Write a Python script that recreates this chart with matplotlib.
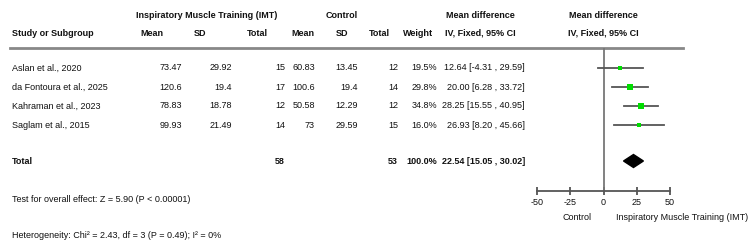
import numpy as np
import matplotlib.pyplot as plt
from matplotlib.patches import Polygon

studies = ['Aslan et al., 2020', 'da Fontoura et al., 2025',
           'Kahraman et al., 2023', 'Saglam et al., 2015']
imt_mean = ['73.47', '120.6', '78.83', '99.93']
imt_sd = ['29.92', '19.4', '18.78', '21.49']
imt_n = [15, 17, 12, 14]
ctl_mean = ['60.83', '100.6', '50.58', '73']
ctl_sd = ['13.45', '19.4', '12.29', '29.59']
ctl_n = [12, 14, 12, 15]
weight = [19.5, 29.8, 34.8, 16.0]
md = [12.64, 20.00, 28.25, 26.93]
lo = [-4.31, 6.28, 15.55, 8.20]
hi = [29.59, 33.72, 40.95, 45.66]
tot_weight = 100.0
tot_md, tot_lo, tot_hi = 22.54, 15.05, 30.02
ticks = [-50, -25, 0, 25, 50]

W, H = 756, 252
plt.rcParams['font.family'] = ['Liberation Sans', 'DejaVu Sans']
plt.rcParams['axes.unicode_minus'] = False
fig = plt.figure(figsize=(W / 100, H / 100), dpi=100)
ax = fig.add_axes([0, 0, 1, 1])
ax.set_xlim(0, W); ax.set_ylim(H, 0); ax.axis('off')

txt = '#111111'
fs = 6.5
def t(x, y, s, ha='left', bold=False):
    ax.text(x, y, s, ha=ha, va='center', fontsize=fs, color=txt,
            fontweight='bold' if bold else 'normal')

# headers
t(207, 15, 'Inspiratory Muscle Training (IMT)', 'center', True)
t(342, 15, 'Control', 'center', True)
t(480, 15, 'Mean difference', 'center', True)
t(603, 15, 'Mean difference', 'center', True)
t(12, 33, 'Study or Subgroup', bold=True)
t(152, 33, 'Mean', 'center', True)
t(200, 33, 'SD', 'center', True)
t(268, 33, 'Total', 'right', True)
t(303, 33, 'Mean', 'center', True)
t(342, 33, 'SD', 'center', True)
t(390, 33, 'Total', 'right', True)
t(433, 33, 'Weight', 'right', True)
t(480, 33, 'IV, Fixed, 95% CI', 'center', True)
t(603, 33, 'IV, Fixed, 95% CI', 'center', True)
ax.plot([10, 683], [48, 48], color='#888888', lw=2)

rows_y = [68, 87, 106, 125]
for i, y in enumerate(rows_y):
    t(12, y, studies[i])
    t(182, y, imt_mean[i], 'right')
    t(232, y, imt_sd[i], 'right')
    t(285, y, str(imt_n[i]), 'right')
    t(315, y, ctl_mean[i], 'right')
    t(358, y, ctl_sd[i], 'right')
    t(398, y, str(ctl_n[i]), 'right')
    t(437, y, f'{weight[i]:.1f}%', 'right')
    t(525, y, f'{md[i]:.2f} [{lo[i]:.2f} , {hi[i]:.2f}]', 'right')

tot_y = 161
t(12, tot_y, 'Total', bold=True)
t(285, tot_y, str(sum(imt_n)), 'right', True)
t(398, tot_y, str(sum(ctl_n)), 'right', True)
t(437, tot_y, f'{tot_weight:.1f}%', 'right', True)
t(525, tot_y, f'{tot_md:.2f} [{tot_lo:.2f} , {tot_hi:.2f}]', 'right', True)
t(12, 200, 'Test for overall effect: Z = 5.90 (P < 0.00001)')
t(12, 235, 'Heterogeneity: Chi\u00b2 = 2.43, df = 3 (P = 0.49); I\u00b2 = 0%')

# forest panel
x0, x1, ytop, ybot = 537, 670, 48, 191
fx = fig.add_axes([x0 / W, (H - ybot) / H, (x1 - x0) / W, (ybot - ytop) / H])
fx.set_xlim(-50, 50); fx.set_ylim(ybot, ytop)
fx.patch.set_visible(False)
for s in ['left', 'right', 'top']:
    fx.spines[s].set_visible(False)
fx.spines['bottom'].set_color('#555555')
fx.spines['bottom'].set_linewidth(1.3)
fx.set_yticks([])
fx.set_xticks(ticks)
fx.tick_params(axis='x', direction='inout', length=6, width=1.3, color='#555555',
               labelsize=fs, labelcolor=txt, pad=2)
fx.axvline(0, color='#777777', lw=1.3)
for i, y in enumerate(rows_y):
    fx.plot([lo[i], hi[i]], [y, y], color='#555555', lw=1.3)
    fx.plot(md[i], y, marker='s', color='#00dd00', ms=0.75 * np.sqrt(weight[i]), mew=0)
dh = 6.5
fx.add_patch(Polygon([[tot_lo, tot_y], [tot_md, tot_y - dh], [tot_hi, tot_y], [tot_md, tot_y + dh]],
                     closed=True, color='black'))
t(577, 217, 'Control', 'center')
t(682, 217, 'Inspiratory Muscle Training (IMT)', 'center')

fig.savefig('out.png', dpi=100)
